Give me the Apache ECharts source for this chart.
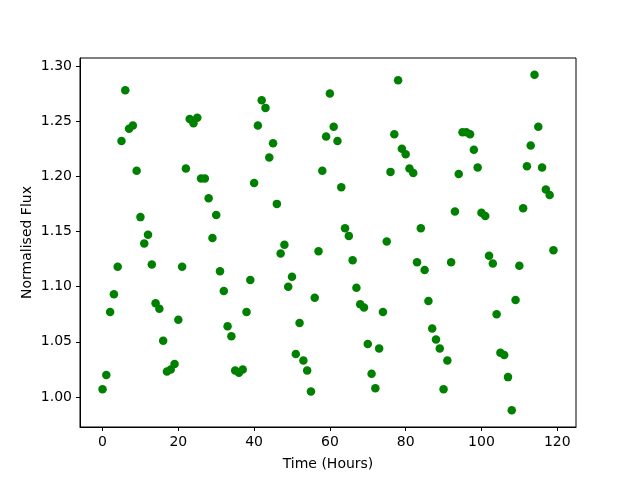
<!DOCTYPE html>
<html>
<head>
<meta charset="utf-8">
<script src="https://cdn.jsdelivr.net/npm/echarts@6/dist/echarts.min.js"></script>
<style>html,body{margin:0;padding:0;background:#fff;}#c{width:640px;height:480px;}</style>
</head>
<body>
<div id="c"></div>
<script>
const hours = Array.from({length: 120}, (_, i) => i);
const flux = [
1.007,1.020,1.077,1.093,1.118,1.232,1.278,1.243,1.246,1.205,
1.163,1.139,1.147,1.120,1.085,1.080,1.051,1.023,1.025,1.030,
1.070,1.118,1.207,1.252,1.248,1.253,1.198,1.198,1.180,1.144,
1.165,1.114,1.096,1.064,1.055,1.024,1.022,1.025,1.077,1.106,
1.194,1.246,1.269,1.262,1.217,1.230,1.175,1.130,1.138,1.100,
1.109,1.039,1.067,1.033,1.024,1.005,1.090,1.132,1.205,1.236,
1.275,1.245,1.232,1.190,1.153,1.146,1.124,1.099,1.084,1.081,
1.048,1.021,1.008,1.044,1.077,1.141,1.204,1.238,1.287,1.225,
1.220,1.207,1.203,1.122,1.153,1.115,1.087,1.062,1.052,1.044,
1.007,1.033,1.122,1.168,1.202,1.240,1.240,1.238,1.224,1.208,
1.167,1.164,1.128,1.121,1.075,1.040,1.038,1.018,0.988,1.088,
1.119,1.171,1.209,1.228,1.292,1.245,1.208,1.188,1.183,1.133
];
const xTicks = [0, 20, 40, 60, 80, 100, 120];
const yTicks = [1.00, 1.05, 1.10, 1.15, 1.20, 1.25, 1.30];
const xLabel = 'Time (Hours)';
const yLabel = 'Normalised Flux';

const font = 'DejaVu Sans';
const chart = echarts.init(document.getElementById('c'), null, {renderer: 'canvas'});
chart.setOption({
  animation: false,
  backgroundColor: '#fff',
  grid: {left: 80, right: 64, top: 58, bottom: 53, show: true, borderColor: '#000', borderWidth: 1, backgroundColor: 'transparent'},
  xAxis: {
    type: 'value', min: -5.95, max: 124.95,
    name: xLabel, nameLocation: 'middle', nameGap: 30, nameMoveOverlap: false,
    nameTextStyle: {fontFamily: font, fontSize: 14, color: '#000'},
    axisLine: {show: true, onZero: false, lineStyle: {color: '#000', width: 1}},
    axisTick: {show: true, length: 4, customValues: xTicks, lineStyle: {color: '#000'}},
    axisLabel: {customValues: xTicks, margin: 8, fontFamily: font, fontSize: 14, color: '#000'},
    splitLine: {show: false}
  },
  yAxis: {
    type: 'value', min: 0.9728, max: 1.3072,
    name: yLabel, nameLocation: 'middle', nameGap: 46, nameMoveOverlap: false,
    nameTextStyle: {fontFamily: font, fontSize: 14, color: '#000'},
    axisLine: {show: true, onZero: false, lineStyle: {color: '#000', width: 1}},
    axisTick: {show: true, length: 4, customValues: yTicks, lineStyle: {color: '#000'}},
    axisLabel: {customValues: yTicks, margin: 8, fontFamily: font, fontSize: 14, color: '#000',
      formatter: v => v.toFixed(2)},
    splitLine: {show: false}
  },
  series: [{
    type: 'scatter',
    data: hours.map((h, i) => [h, flux[i]]),
    symbol: 'circle', symbolSize: 8.5,
    itemStyle: {color: '#008000', opacity: 1}
  }]
});
</script>
</body>
</html>
